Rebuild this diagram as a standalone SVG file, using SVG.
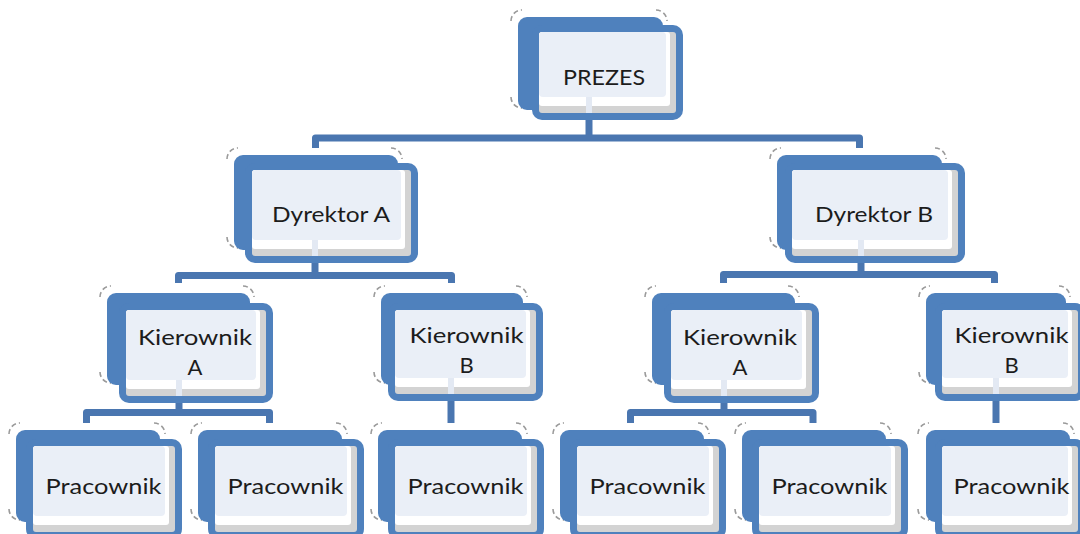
<svg xmlns="http://www.w3.org/2000/svg" width="1080" height="534" viewBox="0 0 1080 534">
<style>
.dash{fill:none;stroke:#9a9a9a;stroke-width:1.6;stroke-dasharray:5 3}
.back{fill:#4F81BD}
.front{fill:#4F81BD}
.shade{fill:#D3D3D3}
.hl{fill:#FFFFFF}
.panel{fill:#EAEFF7}
.mark{fill:#E3E9F3}
.lbl{font-family:Lato,"Liberation Sans",sans-serif;font-size:22px;fill:#1c1c1c;text-anchor:middle}
.con{fill:none;stroke:#4A76B0;stroke-width:7;stroke-linejoin:round;stroke-linecap:butt}
</style>
<rect width="1080" height="534" fill="#FFFFFF"/>
<g id="connectors">
<path class="con" d="M589,119 V138"/>
<path class="con" d="M315.5,148 V138 H859.5 V148"/>
<path class="con" d="M315,262 V275.5"/>
<path class="con" d="M178.5,283 V275.5 H451.5 V283"/>
<path class="con" d="M861,262 V274.5"/>
<path class="con" d="M723.5,283 V274.5 H994.5 V283"/>
<path class="con" d="M179,402 V412.5"/>
<path class="con" d="M86.5,423 V412.5 H269.5 V423"/>
<path class="con" d="M451,400 V423"/>
<path class="con" d="M724,402 V412.5"/>
<path class="con" d="M630.5,423 V412.5 H813 V423"/>
<path class="con" d="M996,400 V423"/>
</g>

<g id="prezes">
<path class="dash" d="M511,21 A11,11 0 0 1 522,10 M656,10 A11,11 0 0 1 667,21 M511,97 A11,11 0 0 0 522,108"/>
<rect class="back" x="518" y="17" width="145" height="93" rx="9"/>
<rect class="front" x="532" y="25" width="151" height="95" rx="10"/>
<rect class="shade" x="539" y="32" width="137" height="81" rx="3"/>
<rect class="hl" x="539" y="32" width="131" height="74" rx="3"/>
<rect class="panel" x="539" y="32" width="127" height="65" rx="4"/>
<rect class="mark" x="586" y="97" width="6" height="16"/>
<text class="lbl" x="604" y="85" textLength="82" lengthAdjust="spacingAndGlyphs">PREZES</text>
</g>

<g id="dyrektor-a">
<path class="dash" d="M227,159 A11,11 0 0 1 238,148 M391,148 A11,11 0 0 1 402,159 M227,237 A11,11 0 0 0 238,248"/>
<rect class="back" x="234" y="155" width="164" height="95" rx="9"/>
<rect class="front" x="245" y="163" width="173" height="100" rx="10"/>
<rect class="shade" x="252" y="170" width="159" height="86" rx="3"/>
<rect class="hl" x="252" y="170" width="153" height="79" rx="3"/>
<rect class="panel" x="252" y="170" width="149" height="70" rx="4"/>
<rect class="mark" x="312" y="240" width="6" height="16"/>
<text class="lbl" x="331" y="222" textLength="118" lengthAdjust="spacingAndGlyphs">Dyrektor A</text>
</g>

<g id="dyrektor-b">
<path class="dash" d="M770,159 A11,11 0 0 1 781,148 M935,148 A11,11 0 0 1 946,159 M770,237 A11,11 0 0 0 781,248"/>
<rect class="back" x="777" y="155" width="165" height="95" rx="9"/>
<rect class="front" x="785" y="163" width="180" height="100" rx="10"/>
<rect class="shade" x="792" y="170" width="166" height="86" rx="3"/>
<rect class="hl" x="792" y="170" width="160" height="79" rx="3"/>
<rect class="panel" x="792" y="170" width="156" height="70" rx="4"/>
<rect class="mark" x="858" y="240" width="6" height="16"/>
<text class="lbl" x="874" y="222" textLength="118" lengthAdjust="spacingAndGlyphs">Dyrektor B</text>
</g>

<g id="kierownik-a-1">
<path class="dash" d="M100,297 A11,11 0 0 1 111,286 M243,286 A11,11 0 0 1 254,297 M100,372 A11,11 0 0 0 111,383"/>
<rect class="back" x="107" y="293" width="143" height="92" rx="9"/>
<rect class="front" x="119" y="303" width="154" height="100" rx="10"/>
<rect class="shade" x="126" y="310" width="140" height="86" rx="3"/>
<rect class="hl" x="126" y="310" width="134" height="79" rx="3"/>
<rect class="panel" x="126" y="310" width="130" height="70" rx="4"/>
<rect class="mark" x="176" y="380" width="6" height="16"/>
<text class="lbl" x="195" y="345" textLength="114" lengthAdjust="spacingAndGlyphs">Kierownik</text>
<text class="lbl" x="195" y="375">A</text>
</g>

<g id="kierownik-b-1">
<path class="dash" d="M374,297 A11,11 0 0 1 385,286 M516,286 A11,11 0 0 1 527,297 M374,372 A11,11 0 0 0 385,383"/>
<rect class="back" x="381" y="293" width="142" height="92" rx="9"/>
<rect class="front" x="388" y="303" width="155" height="98" rx="10"/>
<rect class="shade" x="395" y="310" width="141" height="84" rx="3"/>
<rect class="hl" x="395" y="310" width="135" height="77" rx="3"/>
<rect class="panel" x="395" y="310" width="131" height="68" rx="4"/>
<rect class="mark" x="448" y="378" width="6" height="16"/>
<text class="lbl" x="466.5" y="343" textLength="114" lengthAdjust="spacingAndGlyphs">Kierownik</text>
<text class="lbl" x="466.5" y="373">B</text>
</g>

<g id="kierownik-a-2">
<path class="dash" d="M645,297 A11,11 0 0 1 656,286 M788,286 A11,11 0 0 1 799,297 M645,372 A11,11 0 0 0 656,383"/>
<rect class="back" x="652" y="293" width="143" height="92" rx="9"/>
<rect class="front" x="664" y="303" width="155" height="100" rx="10"/>
<rect class="shade" x="671" y="310" width="141" height="86" rx="3"/>
<rect class="hl" x="671" y="310" width="135" height="79" rx="3"/>
<rect class="panel" x="671" y="310" width="131" height="70" rx="4"/>
<rect class="mark" x="721" y="380" width="6" height="16"/>
<text class="lbl" x="740" y="345" textLength="114" lengthAdjust="spacingAndGlyphs">Kierownik</text>
<text class="lbl" x="740" y="375">A</text>
</g>

<g id="kierownik-b-2">
<path class="dash" d="M919,297 A11,11 0 0 1 930,286 M1059,286 A11,11 0 0 1 1070,297 M919,372 A11,11 0 0 0 930,383"/>
<rect class="back" x="926" y="293" width="140" height="92" rx="9"/>
<rect class="front" x="935" y="303" width="150" height="98" rx="10"/>
<rect class="shade" x="942" y="310" width="136" height="84" rx="3"/>
<rect class="hl" x="942" y="310" width="130" height="77" rx="3"/>
<rect class="panel" x="942" y="310" width="126" height="68" rx="4"/>
<rect class="mark" x="993" y="378" width="6" height="16"/>
<text class="lbl" x="1011.5" y="343" textLength="114" lengthAdjust="spacingAndGlyphs">Kierownik</text>
<text class="lbl" x="1011.5" y="373">B</text>
</g>

<g id="pracownik-1">
<path class="dash" d="M9,434 A11,11 0 0 1 20,423 M154,423 A11,11 0 0 1 165,434 M9,509 A11,11 0 0 0 20,520"/>
<rect class="back" x="16" y="430" width="144" height="92" rx="9"/>
<rect class="front" x="26" y="439" width="156" height="100" rx="10"/>
<rect class="shade" x="33" y="446" width="142" height="86" rx="3"/>
<rect class="hl" x="33" y="446" width="136" height="79" rx="3"/>
<rect class="panel" x="33" y="446" width="132" height="70" rx="4"/>
<text class="lbl" x="103.5" y="494" textLength="116" lengthAdjust="spacingAndGlyphs">Pracownik</text>
</g>

<g id="pracownik-2">
<path class="dash" d="M191,434 A11,11 0 0 1 202,423 M336,423 A11,11 0 0 1 347,434 M191,509 A11,11 0 0 0 202,520"/>
<rect class="back" x="198" y="430" width="144" height="92" rx="9"/>
<rect class="front" x="208" y="439" width="156" height="100" rx="10"/>
<rect class="shade" x="215" y="446" width="142" height="86" rx="3"/>
<rect class="hl" x="215" y="446" width="136" height="79" rx="3"/>
<rect class="panel" x="215" y="446" width="132" height="70" rx="4"/>
<text class="lbl" x="285.5" y="494" textLength="116" lengthAdjust="spacingAndGlyphs">Pracownik</text>
</g>

<g id="pracownik-3">
<path class="dash" d="M371,434 A11,11 0 0 1 382,423 M516,423 A11,11 0 0 1 527,434 M371,509 A11,11 0 0 0 382,520"/>
<rect class="back" x="378" y="430" width="144" height="92" rx="9"/>
<rect class="front" x="388" y="439" width="156" height="100" rx="10"/>
<rect class="shade" x="395" y="446" width="142" height="86" rx="3"/>
<rect class="hl" x="395" y="446" width="136" height="79" rx="3"/>
<rect class="panel" x="395" y="446" width="132" height="70" rx="4"/>
<text class="lbl" x="465.5" y="494" textLength="116" lengthAdjust="spacingAndGlyphs">Pracownik</text>
</g>

<g id="pracownik-4">
<path class="dash" d="M553,434 A11,11 0 0 1 564,423 M698,423 A11,11 0 0 1 709,434 M553,509 A11,11 0 0 0 564,520"/>
<rect class="back" x="560" y="430" width="144" height="92" rx="9"/>
<rect class="front" x="570" y="439" width="156" height="100" rx="10"/>
<rect class="shade" x="577" y="446" width="142" height="86" rx="3"/>
<rect class="hl" x="577" y="446" width="136" height="79" rx="3"/>
<rect class="panel" x="577" y="446" width="132" height="70" rx="4"/>
<text class="lbl" x="647.5" y="494" textLength="116" lengthAdjust="spacingAndGlyphs">Pracownik</text>
</g>

<g id="pracownik-5">
<path class="dash" d="M735,434 A11,11 0 0 1 746,423 M880,423 A11,11 0 0 1 891,434 M735,509 A11,11 0 0 0 746,520"/>
<rect class="back" x="742" y="430" width="144" height="92" rx="9"/>
<rect class="front" x="752" y="439" width="156" height="100" rx="10"/>
<rect class="shade" x="759" y="446" width="142" height="86" rx="3"/>
<rect class="hl" x="759" y="446" width="136" height="79" rx="3"/>
<rect class="panel" x="759" y="446" width="132" height="70" rx="4"/>
<text class="lbl" x="829.5" y="494" textLength="116" lengthAdjust="spacingAndGlyphs">Pracownik</text>
</g>

<g id="pracownik-6">
<path class="dash" d="M918,434 A11,11 0 0 1 929,423 M1063,423 A11,11 0 0 1 1074,434 M918,509 A11,11 0 0 0 929,520"/>
<rect class="back" x="926" y="430" width="144" height="92" rx="9"/>
<rect class="front" x="935" y="439" width="150" height="100" rx="10"/>
<rect class="shade" x="942" y="446" width="136" height="86" rx="3"/>
<rect class="hl" x="942" y="446" width="130" height="79" rx="3"/>
<rect class="panel" x="942" y="446" width="126" height="70" rx="4"/>
<text class="lbl" x="1011.5" y="494" textLength="116" lengthAdjust="spacingAndGlyphs">Pracownik</text>
</g>
</svg>
